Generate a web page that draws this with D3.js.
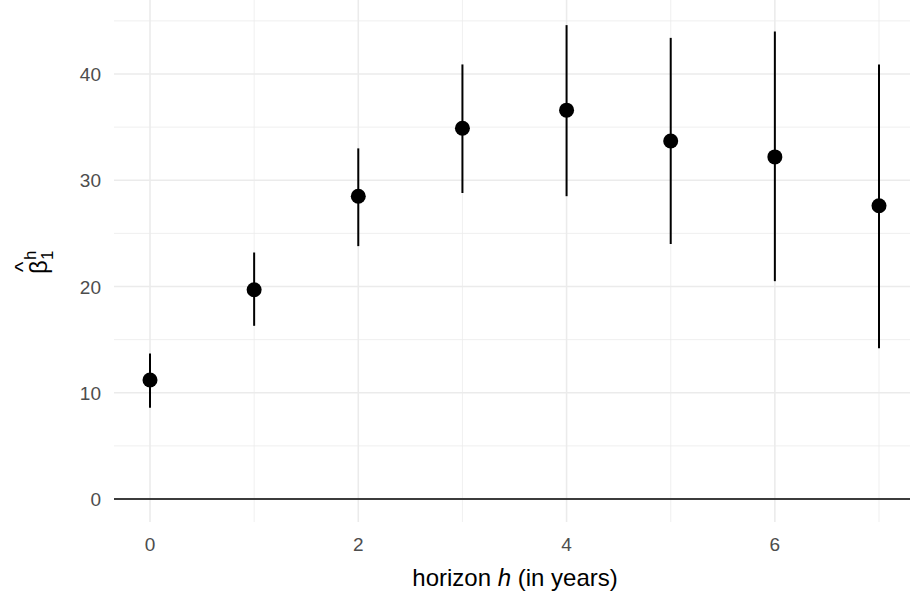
<!DOCTYPE html>
<html><head><meta charset="utf-8">
<script src="https://cdn.jsdelivr.net/npm/d3@7"></script>
<style>body{margin:0;background:#fff}text{font-family:"Liberation Sans",Arial,sans-serif}</style>
</head><body><svg id="c" width="910" height="599"></svg>
<script>
const horizon = [0, 1, 2, 3, 4, 5, 6, 7];
const estimate = [11.2, 19.7, 28.5, 34.9, 36.6, 33.7, 32.2, 27.6];
const lower = [8.6, 16.3, 23.8, 28.8, 28.5, 24.0, 20.5, 14.2];
const upper = [13.7, 23.2, 33.0, 40.9, 44.6, 43.4, 44.0, 40.9];
const xTicks = [0, 2, 4, 6];
const yTicks = [0, 10, 20, 30, 40];

const svg = d3.select("#c");
// 0 -> 150px, 7 -> 879px
const x = d3.scaleLinear().domain([0, 7]).range([150, 879]);
const y = d3.scaleLinear().domain([0, 40]).range([499, 74]);
const x0 = x.invert(114), x1 = x.invert(910), y0 = y.invert(522), y1 = y.invert(0);

const grid = svg.append("g");
[1, 3, 5, 7].forEach(v => grid.append("line").attr("x1", x(v)).attr("x2", x(v)).attr("y1", y(y0)).attr("y2", y(y1)).attr("stroke", "#ebebeb").attr("stroke-width", 0.8));
[5, 15, 25, 35, 45].forEach(v => grid.append("line").attr("y1", y(v)).attr("y2", y(v)).attr("x1", x(x0)).attr("x2", x(x1)).attr("stroke", "#ebebeb").attr("stroke-width", 0.8));
xTicks.forEach(v => grid.append("line").attr("x1", x(v)).attr("x2", x(v)).attr("y1", y(y0)).attr("y2", y(y1)).attr("stroke", "#ebebeb").attr("stroke-width", 1.6));
yTicks.forEach(v => grid.append("line").attr("y1", y(v)).attr("y2", y(v)).attr("x1", x(x0)).attr("x2", x(x1)).attr("stroke", "#ebebeb").attr("stroke-width", 1.6));

svg.append("line").attr("x1", x(x0)).attr("x2", x(x1)).attr("y1", y(0)).attr("y2", y(0)).attr("stroke", "#000").attr("stroke-width", 1.6);

svg.selectAll(".err").data(horizon).join("line")
  .attr("x1", d => x(d)).attr("x2", d => x(d))
  .attr("y1", (d, i) => y(lower[i])).attr("y2", (d, i) => y(upper[i]))
  .attr("stroke", "#000").attr("stroke-width", 2);
svg.selectAll(".pt").data(horizon).join("circle")
  .attr("cx", d => x(d)).attr("cy", (d, i) => y(estimate[i])).attr("r", 7.5).attr("fill", "#000");

svg.selectAll(".xt").data(xTicks).join("text")
  .attr("x", d => x(d)).attr("y", 551).attr("text-anchor", "middle")
  .attr("font-size", 19).attr("fill", "#4d4d4d").text(d => d);
svg.selectAll(".yt").data(yTicks).join("text")
  .attr("x", 101).attr("y", d => y(d) + 7).attr("text-anchor", "end")
  .attr("font-size", 19).attr("fill", "#4d4d4d").text(d => d);

const xl = svg.append("text").attr("x", 515).attr("y", 586).attr("text-anchor", "middle").attr("font-size", 24).attr("fill", "#000");
xl.append("tspan").text("horizon ");
xl.append("tspan").attr("font-style", "italic").text("h");
xl.append("tspan").text(" (in years)");

const yl = svg.append("g").attr("transform", "translate(47,274) rotate(-90)");
yl.append("text").attr("x", 0).attr("y", 0).attr("font-size", 24).text("β");
yl.append("text").attr("x", 2).attr("y", -17).attr("font-size", 22).text("^");
yl.append("text").attr("x", 14).attr("y", 6).attr("font-size", 17).text("1");
yl.append("text").attr("x", 14).attr("y", -11).attr("font-size", 17).text("h");
</script></body></html>
